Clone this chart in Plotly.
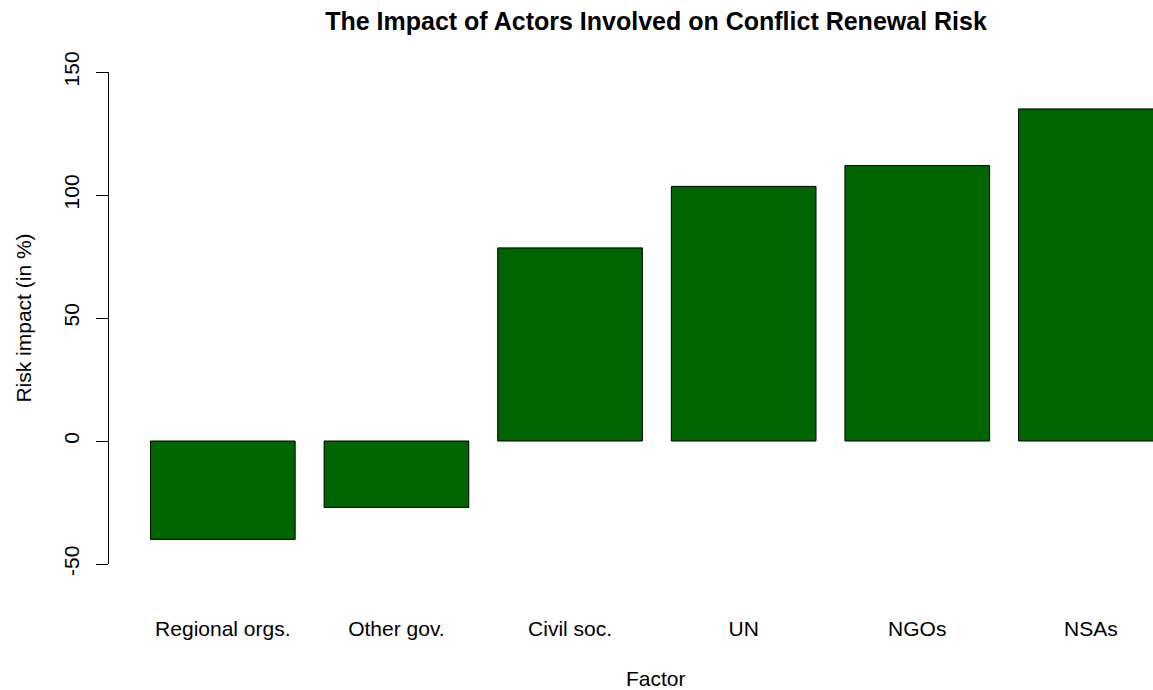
import plotly.graph_objects as go

categories = ["Regional orgs.", "Other gov.", "Civil soc.", "UN", "NGOs", "NSAs"]
values = [-40, -27, 78.5, 103.5, 112, 135]
y_ticks = [-50, 0, 50, 100, 150]
y_tick_labels = ["-50", "0", "50", "100", "150"]

W, H = 1153, 690
unit = 144.75                    # px per bar-width unit
bar0_left = 150                  # left edge of first bar (x = 0.2)
left, right = 108.5, 1153
top, bottom = 72, 564
x_left = 0.2 - (bar0_left - left) / unit
x_right = 0.2 + (right - bar0_left) / unit
positions = [0.7 + 1.2 * i for i in range(len(categories))]
center_px = 656                  # centre of the (wider) R plot region

font = "Liberation Sans, Arial, Helvetica, sans-serif"

fig = go.Figure(go.Bar(
    x=positions, y=values, width=1.0,
    marker=dict(color="#006400", line=dict(color="black", width=1)),
))

fig.update_layout(
    width=W, height=H,
    margin=dict(l=left, r=W - right, t=top, b=H - bottom, pad=0),
    plot_bgcolor="white", paper_bgcolor="white",
    showlegend=False,
    font=dict(family=font, size=21, color="black"),
    title=dict(text="<b>The Impact of Actors Involved on Conflict Renewal Risk</b>",
               x=center_px / W, xref="container", xanchor="center",
               y=1 - 21 / H, yref="container", yanchor="middle",
               font=dict(size=25, family=font)),
    xaxis=dict(range=[x_left, x_right], tickvals=positions, ticktext=categories,
               showline=False, showgrid=False, zeroline=False, ticks="",
               ticklabelstandoff=50),
    yaxis=dict(range=[-50, 150], tickvals=y_ticks, ticktext=y_tick_labels,
               showline=True, linecolor="black", linewidth=1,
               ticks="outside", ticklen=12, tickcolor="black", tickwidth=1,
               tickangle=-90, showgrid=False, zeroline=False,
               ticklabelstandoff=9,
               title=dict(text="Risk impact (in %)", standoff=22, font=dict(size=21))),
    annotations=[dict(text="Factor", showarrow=False,
                      xref="paper", x=(center_px - left) / (right - left), xanchor="center",
                      yref="paper", y=-(678 - bottom) / (bottom - top), yanchor="middle",
                      font=dict(size=21, family=font))],
)

fig.write_html(
    "out.html",
    config={"displayModeBar": False},
    post_script="document.body.style.margin='0';document.body.style.overflow='hidden';",
)
